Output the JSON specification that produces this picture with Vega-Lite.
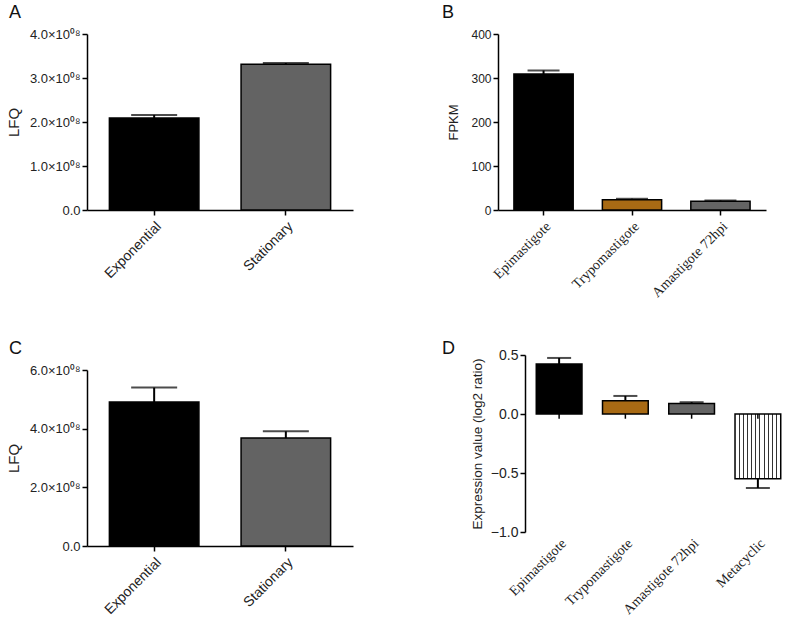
{
  "$schema": "https://vega.github.io/schema/vega-lite/v6.json",
  "padding": {"left": 6, "top": 4, "right": 0, "bottom": 0},
  "background": "white",
  "columns": 2,
  "align": "none",
  "spacing": {"row": 40, "column": 89},
  "resolve": {"scale": {"fill": "independent", "x": "independent", "y": "independent"}},
  "config": {
    "view": {"stroke": null},
    "axis": {"domainColor": "black", "domainWidth": 1.5, "tickColor": "black", "tickWidth": 1.5, "tickSize": 5, "labelColor": "#222", "labelFont": "Liberation Sans", "labelFontSize": 13, "titleFont": "Liberation Sans", "titleFontSize": 15, "titleFontWeight": "normal", "titleColor": "#222", "grid": false},
    "title": {"font": "Liberation Sans", "fontSize": 18, "fontWeight": "normal", "anchor": "start", "frame": "group", "color": "#111"}
  },
  "concat": [
    {
      "width": 266, "height": 176,
      "title": {"text": "A", "dx": -78, "offset": 6},
      "data": {"values": [
        {"stage": "Exponential", "lfq": 209000000, "upper": 216000000},
        {"stage": "Stationary", "lfq": 331000000, "upper": 334000000}
      ]},
      "encoding": {"x": {"field": "stage", "type": "nominal", "sort": null, "scale": {"paddingInner": 0.32, "paddingOuter": 0.17}, "axis": {"title": null, "labelAngle": -45, "labelPadding": 4, "labelFontSize": 14}}},
      "layer": [
        {"mark": {"type": "bar", "stroke": "black", "strokeWidth": 1.5},
         "encoding": {
           "y": {"field": "lfq", "type": "quantitative", "scale": {"domain": [0, 400000000], "nice": false}, "axis": {"title": "LFQ", "values": [0, 100000000, 200000000, 300000000, 400000000], "labelExpr": "datum.value == 0 ? '0.0' : format(datum.value/1e8, '.1f') + '×10⁰⁸'", "titlePadding": 8}},
           "fill": {"field": "stage", "type": "nominal", "scale": {"domain": ["Exponential", "Stationary"], "range": ["#000000", "#636363"]}, "legend": null}}},
        {"mark": {"type": "rule", "color": "black", "strokeWidth": 2}, "encoding": {"y": {"field": "lfq", "type": "quantitative"}, "y2": {"field": "upper"}}},
        {"mark": {"type": "tick", "color": "black", "thickness": 2, "size": 46}, "encoding": {"y": {"field": "upper", "type": "quantitative"}}}
      ]
    },
    {
      "width": 268, "height": 176,
      "title": {"text": "B", "dx": -56, "offset": 6},
      "data": {"values": [
        {"stage": "Epimastigote", "fpkm": 309, "upper": 317},
        {"stage": "Trypomastigote", "fpkm": 23.5, "upper": 25.5},
        {"stage": "Amastigote 72hpi", "fpkm": 19.8, "upper": 21.5}
      ]},
      "encoding": {"x": {"field": "stage", "type": "nominal", "sort": null, "scale": {"paddingInner": 0.33, "paddingOuter": 0.18}, "axis": {"title": null, "labelAngle": -45, "labelPadding": 4, "labelFont": "Liberation Serif", "labelFontSize": 14}}},
      "layer": [
        {"mark": {"type": "bar", "stroke": "black", "strokeWidth": 1.5},
         "encoding": {
           "y": {"field": "fpkm", "type": "quantitative", "scale": {"domain": [0, 400], "nice": false}, "axis": {"title": "FPKM", "values": [0, 100, 200, 300, 400], "titlePadding": 10, "labelFontSize": 12, "titleFontSize": 13}},
           "fill": {"field": "stage", "type": "nominal", "scale": {"domain": ["Epimastigote", "Trypomastigote", "Amastigote 72hpi"], "range": ["#000000", "#A86A14", "#646464"]}, "legend": null}}},
        {"mark": {"type": "rule", "color": "black", "strokeWidth": 2}, "encoding": {"y": {"field": "fpkm", "type": "quantitative"}, "y2": {"field": "upper"}}},
        {"mark": {"type": "tick", "color": "black", "thickness": 2, "size": 32}, "encoding": {"y": {"field": "upper", "type": "quantitative"}}}
      ]
    },
    {
      "width": 266, "height": 176,
      "title": {"text": "C", "dx": -78, "offset": 6},
      "data": {"values": [
        {"stage": "Exponential", "lfq": 491000000, "upper": 540000000},
        {"stage": "Stationary", "lfq": 368000000, "upper": 391000000}
      ]},
      "encoding": {"x": {"field": "stage", "type": "nominal", "sort": null, "scale": {"paddingInner": 0.32, "paddingOuter": 0.17}, "axis": {"title": null, "labelAngle": -45, "labelPadding": 4, "labelFontSize": 14}}},
      "layer": [
        {"mark": {"type": "bar", "stroke": "black", "strokeWidth": 1.5},
         "encoding": {
           "y": {"field": "lfq", "type": "quantitative", "scale": {"domain": [0, 600000000], "nice": false}, "axis": {"title": "LFQ", "values": [0, 200000000, 400000000, 600000000], "labelExpr": "datum.value == 0 ? '0.0' : format(datum.value/1e8, '.1f') + '×10⁰⁸'", "titlePadding": 8}},
           "fill": {"field": "stage", "type": "nominal", "scale": {"domain": ["Exponential", "Stationary"], "range": ["#000000", "#636363"]}, "legend": null}}},
        {"mark": {"type": "rule", "color": "black", "strokeWidth": 2}, "encoding": {"y": {"field": "lfq", "type": "quantitative"}, "y2": {"field": "upper"}}},
        {"mark": {"type": "tick", "color": "black", "thickness": 2, "size": 46}, "encoding": {"y": {"field": "upper", "type": "quantitative"}}}
      ]
    },
    {
      "width": 267, "height": 177,
      "title": {"text": "D", "dx": -83, "offset": -10},
      "data": {"values": [
        {"stage": "Epimastigote", "expr": 0.424, "upper": 0.475},
        {"stage": "Trypomastigote", "expr": 0.113, "upper": 0.153},
        {"stage": "Amastigote 72hpi", "expr": 0.09, "upper": 0.1},
        {"stage": "Metacyclic", "expr": -0.548, "upper": -0.627}
      ]},
      "encoding": {"x": {"field": "stage", "type": "nominal", "sort": null, "scale": {"paddingInner": 0.31, "paddingOuter": 0.17}, "axis": {"title": null, "labelAngle": -45, "labelPadding": 4, "domain": false, "ticks": false, "labelFont": "Liberation Serif", "labelFontSize": 14}}},
      "layer": [
        {"transform": [{"filter": "datum.stage != 'Metacyclic'"}],
         "mark": {"type": "bar", "stroke": "black", "strokeWidth": 1.5},
         "encoding": {
           "y": {"field": "expr", "type": "quantitative", "scale": {"domain": [-1, 0.5], "nice": false}, "axis": {"title": "Expression value (log2 ratio)", "values": [-1, -0.5, 0, 0.5], "format": ".1f", "titlePadding": 6, "labelFontSize": 14, "titleFontSize": 13.5}},
           "fill": {"field": "stage", "type": "nominal", "scale": {"domain": ["Epimastigote", "Trypomastigote", "Amastigote 72hpi"], "range": ["#000000", "#A86A14", "#646464"]}, "legend": null}}},
        {"transform": [{"filter": "datum.stage == 'Metacyclic'"}],
         "mark": {"type": "bar", "stroke": "black", "strokeWidth": 1.5,
           "fill": {"gradient": "linear", "x1": 0, "y1": 0, "x2": 1, "y2": 0, "stops": [
             {"offset": 0, "color": "white"},
             {"offset": 0.079, "color": "white"}, {"offset": 0.079, "color": "#333"}, {"offset": 0.103, "color": "#333"}, {"offset": 0.103, "color": "white"},
             {"offset": 0.170, "color": "white"}, {"offset": 0.170, "color": "#333"}, {"offset": 0.194, "color": "#333"}, {"offset": 0.194, "color": "white"},
             {"offset": 0.261, "color": "white"}, {"offset": 0.261, "color": "#333"}, {"offset": 0.285, "color": "#333"}, {"offset": 0.285, "color": "white"},
             {"offset": 0.352, "color": "white"}, {"offset": 0.352, "color": "#333"}, {"offset": 0.376, "color": "#333"}, {"offset": 0.376, "color": "white"},
             {"offset": 0.443, "color": "white"}, {"offset": 0.443, "color": "#333"}, {"offset": 0.467, "color": "#333"}, {"offset": 0.467, "color": "white"},
             {"offset": 0.533, "color": "white"}, {"offset": 0.533, "color": "#333"}, {"offset": 0.557, "color": "#333"}, {"offset": 0.557, "color": "white"},
             {"offset": 0.624, "color": "white"}, {"offset": 0.624, "color": "#333"}, {"offset": 0.648, "color": "#333"}, {"offset": 0.648, "color": "white"},
             {"offset": 0.715, "color": "white"}, {"offset": 0.715, "color": "#333"}, {"offset": 0.739, "color": "#333"}, {"offset": 0.739, "color": "white"},
             {"offset": 0.806, "color": "white"}, {"offset": 0.806, "color": "#333"}, {"offset": 0.830, "color": "#333"}, {"offset": 0.830, "color": "white"},
             {"offset": 0.897, "color": "white"}, {"offset": 0.897, "color": "#333"}, {"offset": 0.921, "color": "#333"}, {"offset": 0.921, "color": "white"},
             {"offset": 1, "color": "white"}
           ]}},
         "encoding": {"y": {"field": "expr", "type": "quantitative"}}},
        {"mark": {"type": "rule", "color": "black", "strokeWidth": 1.5}, "encoding": {"y": {"datum": 0}}},
        {"mark": {"type": "rule", "color": "black", "strokeWidth": 1.5}, "encoding": {"y": {"datum": 0}, "y2": {"datum": -0.04}}},
        {"mark": {"type": "rule", "color": "black", "strokeWidth": 2}, "encoding": {"y": {"field": "expr", "type": "quantitative"}, "y2": {"field": "upper"}}},
        {"mark": {"type": "tick", "color": "black", "thickness": 2, "size": 24}, "encoding": {"y": {"field": "upper", "type": "quantitative"}}}
      ]
    }
  ]
}
